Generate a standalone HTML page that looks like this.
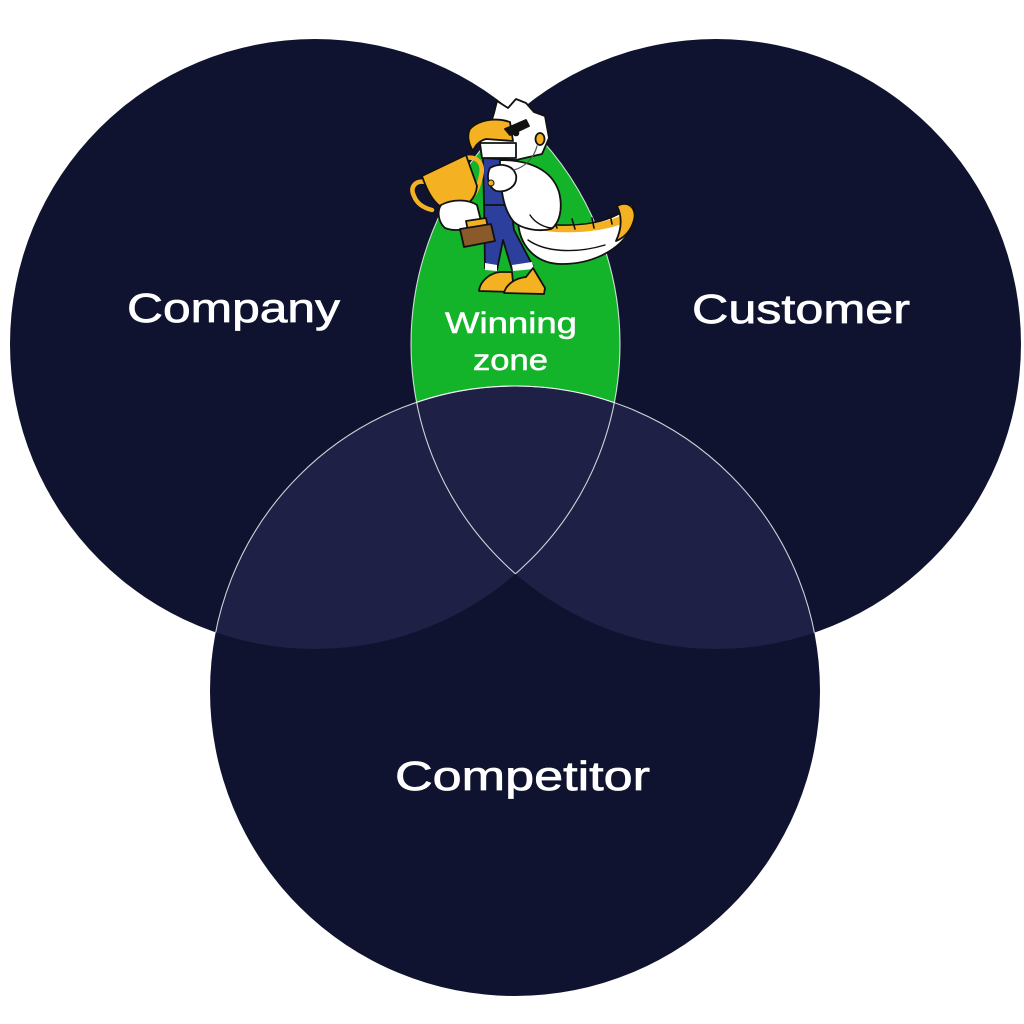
<!DOCTYPE html>
<html>
<head>
<meta charset="utf-8">
<style>
  html,body{margin:0;padding:0;background:#ffffff;}
  svg{display:block;}
  .lbl{font-family:"Liberation Sans",Arial,sans-serif;fill:#ffffff;stroke:#ffffff;stroke-width:0.7px;}
</style>
</head>
<body>
<svg width="1024" height="1024" viewBox="0 0 1024 1024" xmlns="http://www.w3.org/2000/svg">
  <defs>
    <clipPath id="c1"><circle cx="315" cy="344" r="305"/></clipPath>
    <clipPath id="c2"><circle cx="716" cy="344" r="305"/></clipPath>
  </defs>
  <rect width="1024" height="1024" fill="#ffffff"/>
  <!-- base circles -->
  <circle cx="315" cy="344" r="305" fill="#0f1330"/>
  <circle cx="716" cy="344" r="305" fill="#0f1330"/>
  <circle cx="515" cy="691" r="305" fill="#0f1330"/>
  <!-- green winning zone (C1 ∩ C2) -->
  <circle cx="716" cy="344" r="305" fill="#13b42a" clip-path="url(#c1)"/>
  <!-- lighter overlaps with competitor -->
  <circle cx="515" cy="691" r="305" fill="#1f2046" clip-path="url(#c1)"/>
  <circle cx="515" cy="691" r="305" fill="#1f2046" clip-path="url(#c2)"/>
  <!-- thin white outlines -->
  <g fill="none" stroke="#ffffff" stroke-opacity="0.8" stroke-width="1.1">
    <circle cx="515" cy="691" r="305" clip-path="url(#c1)"/>
    <circle cx="515" cy="691" r="305" clip-path="url(#c2)"/>
    <g clip-path="url(#c2)"><circle cx="315" cy="344" r="305"/></g>
    <g clip-path="url(#c1)"><circle cx="716" cy="344" r="305"/></g>
  </g>

  <!-- labels -->
  <text class="lbl" x="127" y="322" font-size="41" textLength="213" lengthAdjust="spacingAndGlyphs">Company</text>
  <text class="lbl" x="692" y="323" font-size="41" textLength="218" lengthAdjust="spacingAndGlyphs">Customer</text>
  <text class="lbl" x="395" y="790" font-size="41" textLength="255" lengthAdjust="spacingAndGlyphs">Competitor</text>
  <text class="lbl" x="445" y="333" font-size="30" textLength="132" lengthAdjust="spacingAndGlyphs" style="stroke-width:0.5px">Winning</text>
  <text class="lbl" x="473" y="370" font-size="30" textLength="75" lengthAdjust="spacingAndGlyphs" style="stroke-width:0.5px">zone</text>

  <!-- mascot -->
  <g stroke="#111111" stroke-width="1.8" stroke-linejoin="round" stroke-linecap="round">
    <!-- tail -->
    <path d="M518,218 C518,245 535,264 562,264 C592,264 616,251 628,234 C634,223 636,212 632,204 C622,214 606,221 586,224 C562,227 540,225 518,218 Z" fill="#ffffff"/>
    <path d="M540,224 C560,228 600,226 622,215 L626,222 C606,232 570,234 545,231 Z" fill="#f4b223" stroke="none"/>
    <path d="M553,218 L557,228 M572,219 L575,229 M592,218 L594,228 M610,214 L612,224" fill="none" stroke-width="1.6"/>
    <path d="M617,206 C628,200 637,208 634,220 C631,231 624,238 616,241 C622,228 622,216 617,206 Z" fill="#f4b223"/>
    <path d="M528,240 C545,252 575,254 605,245" fill="none" stroke-width="1.4"/>
    <!-- legs (blue) -->
    <path d="M484,198 L510,198 L514,230 L533,266 L512,270 L503,240 L497,270 L485,268 Z" fill="#2d3f9c"/>
    <path d="M485,263 L497,265 L497,271 L485,270 Z M512,265 L532,262 L534,269 L513,271 Z" fill="#ffffff" stroke="none"/>
    <!-- feet -->
    <path d="M479,291 C480,281 490,273 500,272 L512,272 L514,292 Z" fill="#f4b223"/>
    <path d="M504,293 C506,284 516,278 526,277 L533,268 L545,288 L544,294 Z" fill="#f4b223"/>
    <!-- overalls upper -->
    <path d="M483,158 L510,158 L512,205 L484,205 Z" fill="#2d3f9c"/>
    <!-- body / wing white -->
    <path d="M500,160 C530,160 552,170 559,192 C563,208 560,223 551,229 C538,232 522,229 514,222 C505,212 500,195 500,160 Z" fill="#ffffff"/>
    <path d="M530,215 C535,223 545,228 553,228" fill="none" stroke-width="1.4"/>
    <!-- fist -->
    <path d="M490,168 C500,162 513,165 516,175 C518,186 507,193 496,191 C488,187 486,176 490,168 Z" fill="#ffffff"/>
    <circle cx="491" cy="183" r="3" fill="#f4b223" stroke-width="1"/>
    <!-- head -->
    <path d="M494,113 L497,101 L508,108 L516,99 L526,103 L534,112 L545,116 L549,138 L542,154 L516,160 L482,158 L480,142 L490,126 Z" fill="#ffffff"/>
    <path d="M480,143 L516,143 L516,158 L482,158 Z" fill="#ffffff"/>
    <!-- beak -->
    <path d="M470,129 C478,120 495,117 510,122 L513,141 L486,139 C479,141 475,146 473,151 C468,143 467,135 470,129 Z" fill="#f4b223"/>
    <!-- eyebrow / eye -->
    <path d="M505,129 L526,120 L529,126 L510,135 Z" fill="#111111"/>
    <circle cx="516" cy="133" r="2.4" fill="#111111"/>
    <!-- headset -->
    <ellipse cx="540" cy="139" rx="4.5" ry="6" fill="#f4b223"/>
    <path d="M537,146 C534,158 525,167 514,170" fill="none" stroke="#555555" stroke-width="1.2"/>
    <!-- trophy handles -->
    <path d="M426,182 C414,180 410,188 414,196 C417,204 424,208 432,210" fill="none" stroke="#f4b223" stroke-width="4.5"/>
    <path d="M466,158 C478,156 484,164 481,176 C479,186 476,192 472,197" fill="none" stroke="#f4b223" stroke-width="4.5"/>
    <!-- trophy cup -->
    <path d="M422,176 L466,155 L477,186 C476,199 466,208 453,210 C440,211 430,200 422,176 Z" fill="#f4b223"/>
    <path d="M450,210 L456,222 L466,220 L461,207 Z" fill="#e0a020"/>
    <!-- hand holding trophy -->
    <path d="M441,205 C452,199 468,199 477,205 L481,221 C471,230 455,232 445,228 C438,222 437,211 441,205 Z" fill="#ffffff"/>
    <!-- base -->
    <path d="M466,221 L486,218 L488,228 L468,231 Z" fill="#f4b223"/>
    <path d="M460,229 L491,224 L495,241 L464,247 Z" fill="#8b5a2b"/>
  </g>
</svg>
</body>
</html>
